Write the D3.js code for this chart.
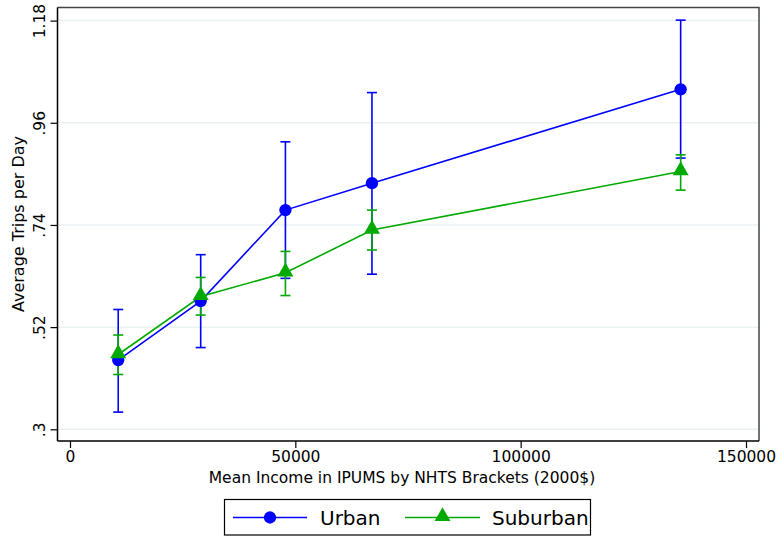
<!DOCTYPE html>
<html><head><meta charset="utf-8">
<script src="https://cdn.jsdelivr.net/npm/d3@7"></script>
<style>body{margin:0;background:#fff}svg{display:block;font-family:"DejaVu Sans",sans-serif}</style>
</head><body>
<svg id="c" width="778" height="538"></svg>
<script>
const incomes = [10700, 29000, 47800, 67000, 135500];
const urbanMean = [0.449, 0.576, 0.772, 0.830, 1.032];
const urbanLo   = [0.337, 0.476, 0.625, 0.634, 0.884];
const urbanHi   = [0.558, 0.676, 0.919, 1.025, 1.181];
const subMean = [0.461, 0.586, 0.637, 0.729, 0.855];
const subLo   = [0.418, 0.546, 0.588, 0.686, 0.815];
const subHi   = [0.503, 0.627, 0.683, 0.772, 0.891];
const yTicks = [0.3, 0.52, 0.74, 0.96, 1.18];
const yTickLabels = [".3", ".52", ".74", ".96", "1.18"];
const xTicks = [0, 50000, 100000, 150000];
const seriesNames = ["Urban", "Suburban"];
const colors = ["#0000ff", "#00aa00"];

const svg = d3.select("#c");
const L = 57.5, R = 759, T = 7.5, B = 441;
const x = d3.scaleLinear().domain([0, 150000]).range([70, 746]);
const y = d3.scaleLinear().domain([0.3, 1.18]).range([429.3, 20.6]);

// grid
svg.append("g").selectAll("line").data(yTicks).join("line")
  .attr("x1", L).attr("x2", R).attr("y1", d => y(d)).attr("y2", d => y(d))
  .attr("stroke", "#eaf2f3").attr("stroke-width", 1.5);

// frame top/right
svg.append("path").attr("d", `M${L},${T}H${R}V${B}`).attr("fill", "none")
  .attr("stroke", "#444").attr("stroke-width", 1.5);

// axes
const yAxis = d3.axisLeft(y).tickValues(yTicks).tickFormat((d, i) => yTickLabels[i]).tickSize(7).tickSizeOuter(0);
const gy = svg.append("g").attr("transform", `translate(${L},0)`).call(yAxis);
gy.select(".domain").attr("d", `M0,${T}V${B}`).attr("stroke", "#000").attr("stroke-width", 1.5);
gy.selectAll(".tick line").attr("stroke", "#000").attr("stroke-width", 1.2);
gy.selectAll(".tick text").attr("font-size", 15.5).attr("fill", "#000")
  .attr("transform", "rotate(-90)").attr("x", 0).attr("y", -13)
  .attr("text-anchor", "middle").attr("dy", "0");
gy.attr("font-family", null);

const xAxis = d3.axisBottom(x).tickValues(xTicks).tickFormat(d3.format("d")).tickSize(7).tickSizeOuter(0);
const gx = svg.append("g").attr("transform", `translate(0,${B})`).call(xAxis);
gx.select(".domain").attr("d", `M${L},0H${R}`).attr("stroke", "#000").attr("stroke-width", 1.5);
gx.selectAll(".tick line").attr("stroke", "#000").attr("stroke-width", 1.2);
gx.selectAll(".tick text").attr("font-size", 15.5).attr("fill", "#000").attr("y", 10).attr("dy", "0.71em");
gx.attr("font-family", null);

// axis titles
svg.append("text").attr("x", 402).attr("y", 483).attr("text-anchor", "middle")
  .attr("font-size", 15.5).text("Mean Income in IPUMS by NHTS Brackets (2000$)");
svg.append("text").attr("transform", "translate(23.5,224) rotate(-90)").attr("text-anchor", "middle")
  .attr("font-size", 16).text("Average Trips per Day");

const series = [
  {mean: urbanMean, lo: urbanLo, hi: urbanHi, color: colors[0], shape: "circle"},
  {mean: subMean, lo: subLo, hi: subHi, color: colors[1], shape: "triangle"}
];
const circ = d3.symbol().type(d3.symbolCircle).size(120);
const tri = d3.symbol().type(d3.symbolTriangle).size(110);

series.forEach(s => {
  const g = svg.append("g");
  const line = d3.line().x((d, i) => x(incomes[i])).y(d => y(d));
  g.append("path").attr("d", line(s.mean)).attr("fill", "none").attr("stroke", s.color).attr("stroke-width", 1.6);
  incomes.forEach((inc, i) => {
    const cx = x(inc);
    g.append("line").attr("x1", cx).attr("x2", cx).attr("y1", y(s.lo[i])).attr("y2", y(s.hi[i]))
      .attr("stroke", s.color).attr("stroke-width", 1.6);
    [s.lo[i], s.hi[i]].forEach(v => g.append("line").attr("x1", cx - 5).attr("x2", cx + 5)
      .attr("y1", y(v)).attr("y2", y(v)).attr("stroke", s.color).attr("stroke-width", 1.6));
  });
});
series.forEach(s => {
  svg.append("g").selectAll("path").data(s.mean).join("path")
    .attr("d", s.shape === "circle" ? circ : tri)
    .attr("transform", (d, i) => `translate(${x(incomes[i])},${y(d) + (s.shape === "circle" ? 0 : -1)})`)
    .attr("fill", s.color);
});

// legend
const lg = svg.append("g");
lg.append("rect").attr("x", 224.5).attr("y", 499.5).attr("width", 366).attr("height", 35.5)
  .attr("fill", "#fff").attr("stroke", "#000").attr("stroke-width", 1.2);
const ly = 517.5;
const items = [{x0: 233, x1: 307, tx: 320}, {x0: 405, x1: 480, tx: 492}];
items.forEach((it, i) => {
  lg.append("line").attr("x1", it.x0).attr("x2", it.x1).attr("y1", ly).attr("y2", ly)
    .attr("stroke", colors[i]).attr("stroke-width", 1.6);
  lg.append("path").attr("d", i === 0 ? circ : tri)
    .attr("transform", `translate(${(it.x0 + it.x1) / 2},${ly - (i === 0 ? 0 : 1)})`).attr("fill", colors[i]);
  lg.append("text").attr("x", it.tx).attr("y", ly + 7).attr("font-size", 20).text(seriesNames[i]);
});
</script>
</body></html>
